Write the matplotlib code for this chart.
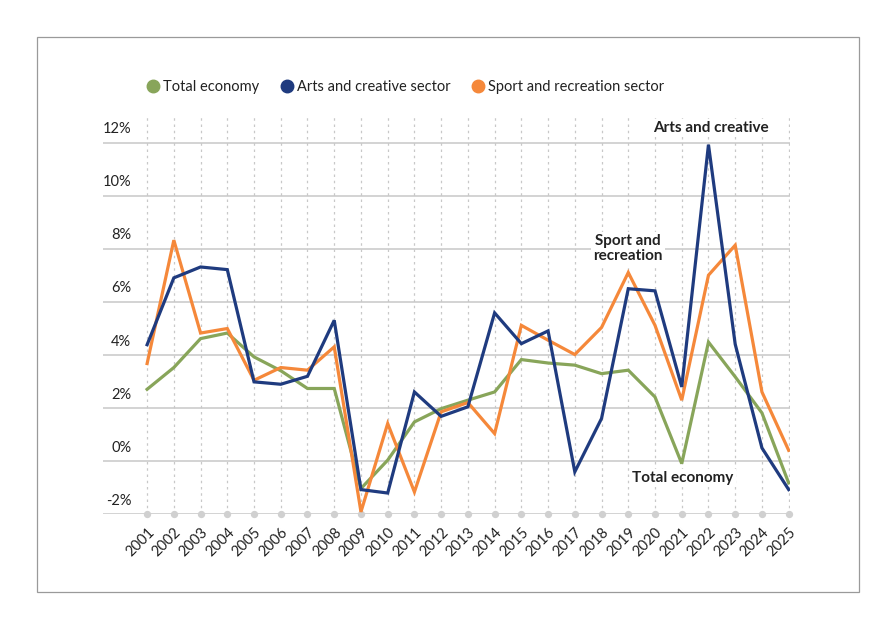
import matplotlib.pyplot as plt
from matplotlib.lines import Line2D
from matplotlib.patches import Rectangle
import matplotlib.transforms as mtransforms

plt.rcParams['font.family'] = ['Lato', 'DejaVu Sans']

# data (annual growth, %)
years = list(range(2001, 2026))
total_economy = [2.70, 3.52, 4.61, 4.82, 3.92, 3.40, 2.73, 2.73, -1.04, 0.03,
                 1.47, 1.97, 2.29, 2.60, 3.82, 3.69, 3.61, 3.29, 3.42, 2.41,
                 -0.10, 4.48, 3.17, 1.81, -0.83]
arts_creative = [4.38, 6.90, 7.31, 7.21, 2.98, 2.89, 3.19, 5.30, -1.08, -1.21,
                 2.60, 1.68, 2.04, 5.58, 4.42, 4.90, -0.41, 1.60, 6.49, 6.41,
                 2.79, 11.92, 4.40, 0.49, -1.08]
sport_recreation = [3.67, 8.32, 4.82, 4.99, 3.04, 3.52, 3.42, 4.30, -1.92, 1.41,
                    -1.17, 1.85, 2.20, 1.03, 5.11, 4.55, 4.01, 5.03, 7.10, 5.11,
                    2.29, 7.00, 8.13, 2.60, 0.40]
y_ticks = [-2, 0, 2, 4, 6, 8, 10, 12]

green = '#88a55a'
blue = '#1f3b7f'
orange = '#f5883a'
text_col = '#222222'
grid_col = '#d0d0d0'

fig = plt.figure(figsize=(8.96, 6.3), dpi=100)
ax = fig.add_axes([103 / 896, 1 - 514 / 630, (790 - 103) / 896, (514 - 116) / 630])

# outer frame
fig.add_artist(Rectangle((37 / 896, 1 - 592 / 630), (859 - 37) / 896, (592 - 37) / 630,
                         transform=fig.transFigure, fill=False, edgecolor='#9a9a9a', lw=0.9))

ax.set_xlim(1999.35, 2025.05)
ax.set_ylim(-2, 13)

# horizontal gridlines
for v in y_ticks:
    ax.axhline(v, color=grid_col, lw=1.3, zorder=1)
# vertical dotted lines with dots on the baseline
for yr in years:
    ax.plot([yr, yr], [-2, 13], color='#c8c8c8', lw=0.9, ls=(0, (2, 3)), zorder=1)
ax.scatter(years, [-2] * len(years), s=18, color='#d0d0d0', zorder=2, clip_on=False)

ax.plot(years, total_economy, color=green, lw=2.3, zorder=3, solid_joinstyle='miter')
ax.plot(years, sport_recreation, color=orange, lw=2.3, zorder=4, solid_joinstyle='miter')
ax.plot(years, arts_creative, color=blue, lw=2.3, zorder=5, solid_joinstyle='miter')

for s in ax.spines.values():
    s.set_visible(False)
ax.set_yticks([])
ax.set_xticks(years)
ax.set_xticklabels([str(y) for y in years], rotation=45, ha='right', va='top',
                   rotation_mode='anchor', fontsize=10.5, color=text_col)
ax.tick_params(axis='x', length=0, pad=8)

# y labels sit above their gridlines
trans = mtransforms.blended_transform_factory(ax.transAxes, ax.transData)
for v in y_ticks:
    ax.text(0.041, v + 0.5, f'{v}%', transform=trans, ha='right', va='center',
            fontsize=10.5, color=text_col)

bbox = dict(facecolor='white', edgecolor='none', pad=1.5)
ax.text(2022.1, 12.55, 'Arts and creative', ha='center', va='center', fontsize=11,
        fontweight='bold', color=text_col, bbox=bbox, zorder=6)
ax.text(2019.0, 8.0, 'Sport and\nrecreation', ha='center', va='center', fontsize=11,
        fontweight='bold', color=text_col, linespacing=1.05, bbox=bbox, zorder=6)
ax.text(2021.05, -0.65, 'Total economy', ha='center', va='center', fontsize=11,
        fontweight='bold', color=text_col, bbox=bbox, zorder=6)

handles = [Line2D([], [], marker='o', ls='none', color=c, markersize=9)
           for c in (green, blue, orange)]
fig.legend(handles, ['Total economy', 'Arts and creative sector', 'Sport and recreation sector'],
           loc='center left', bbox_to_anchor=(138 / 896, 1 - 87 / 630), ncol=3, frameon=False,
           fontsize=10.5, handletextpad=0.1, columnspacing=1.3, handlelength=1.2,
           labelcolor=text_col, borderaxespad=0)

fig.savefig('out.png', dpi=100)
